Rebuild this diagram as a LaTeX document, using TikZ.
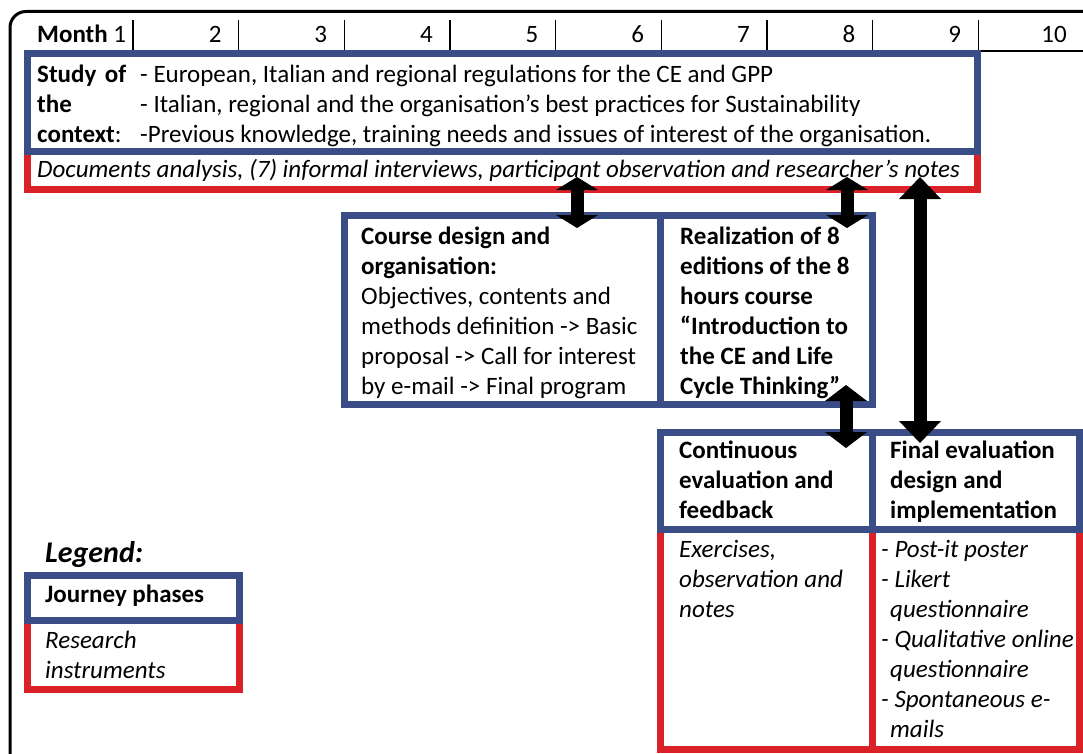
\documentclass[tikz,border=0pt]{standalone}
\usepackage{fontspec}
\setmainfont{Carlito}
\usetikzlibrary{arrows.meta}
\definecolor{phaseblue}{RGB}{59,77,135}
\definecolor{instrred}{RGB}{218,33,40}

\begin{document}
\begin{tikzpicture}[x=1pt,y=-1pt,
    phase/.style={draw=phaseblue, line width=7pt, inner sep=0pt, outer sep=0pt, anchor=north west},
    instr/.style={draw=instrred, line width=7pt, inner sep=0pt, outer sep=0pt, anchor=north west},
    size/.style 2 args={minimum width=#1, minimum height=#2},
    txt/.style={inner sep=0pt, anchor=north west, align=left, font=\fontsize{25pt}{30pt}\selectfont},
    dbl/.style={line width=13pt,
      {Triangle[width=42pt,length=#1,line width=0pt]}-{Triangle[width=42pt,length=#1,line width=0pt]}}]
  \useasboundingbox (0,0) rectangle (1083,754);
  \clip (0,0) rectangle (1083,754);
  % frame
  \draw[line width=3pt, rounded corners=16pt] (10,780) -- (10,11.5) -- (1110,11.5);
  % months
  \node[txt, anchor=base west] (month) at (37,43) {\textbf{Month} 1};
  \foreach \m in {2,...,10}
    \node[txt, anchor=base east] (m\m) at ({133+105.65*(\m-1)-17},43) {\m};
  \foreach \i in {1,...,9}
    \draw[line width=1.2pt] ({133+105.65*(\i-1)},20) -- ++(0,31);
  \draw[line width=1.2pt] (979,51) -- (1090,51);
  % research instruments
  \node[instr, size={949.5pt}{37.5pt}] (ctxinstr) at (27.5,151.5) {};
  \node[instr, size={211.5pt}{220pt}] (continstr) at (660.5,529) {};
  \node[instr, size={207.5pt}{220pt}] (finalinstr) at (872,529) {};
  \node[instr, size={212pt}{68.5pt}] (leginstr) at (27.5,620.5) {};
  % journey phases
  \node[phase, size={949.5pt}{98pt}] (context) at (27.5,53.5) {};
  \node[phase, size={316pt}{188.5pt}] (design) at (344.5,215.5) {};
  \node[phase, size={211.5pt}{188.5pt}] (courses) at (660.5,215.5) {};
  \node[phase, size={211.5pt}{97pt}] (contev) at (660.5,432) {};
  \node[phase, size={207.5pt}{97pt}] (finalev) at (872,432) {};
  \node[phase, size={212pt}{45pt}] (legphase) at (27.5,575.5) {};
  % texts
  \node[txt] (ctxtitle) at (37,65) {\makebox[89pt][s]{\textbf{Study of}}\\\textbf{the}\\\textbf{context}:};
  \node[txt] (ctxtext) at (140,65) {- European, Italian and regional regulations for the CE and GPP\\
    - Italian, regional and the organisation’s best practices for Sustainability\\
    -Previous knowledge, training needs and issues of interest of the organisation.};
  \node[txt, anchor=base west, font=\fontsize{25pt}{30pt}\selectfont\itshape] (ctxtools) at (37,178)
    {Documents analysis, (7) informal interviews, participant observation and researcher’s notes};
  \node[txt] (designtext) at (361,227) {\textbf{Course design and}\\\textbf{organisation:}\\
    Objectives, contents and\\methods definition -> Basic\\proposal -> Call for interest\\by e-mail -> Final program};
  \node[txt, font=\fontsize{25pt}{30pt}\selectfont\bfseries] (coursestext) at (680,227)
    {Realization of 8\\editions of the 8\\hours course\\“Introduction to\\the CE and Life\\Cycle Thinking”};
  \node[txt, font=\fontsize{25pt}{30pt}\selectfont\bfseries] (contevtext) at (679,441)
    {Continuous\\evaluation and\\feedback};
  \node[txt, font=\fontsize{25pt}{30pt}\selectfont\bfseries] (finalevtext) at (890,441)
    {Final evaluation\\design and\\implementation};
  \node[txt, font=\fontsize{25pt}{30pt}\selectfont\itshape] (conttools) at (679,540)
    {Exercises,\\observation and\\notes};
  \node[txt, font=\fontsize{25pt}{30pt}\selectfont\itshape] (finaltools) at (881,540)
    {- Post-it poster\\- Likert\\\hspace*{9pt}questionnaire\\- Qualitative online\\\hspace*{9pt}questionnaire\\
    - Spontaneous e-\\\hspace*{9pt}mails};
  % legend
  \node[txt, anchor=base west, font=\fontsize{30pt}{36pt}\selectfont\bfseries\itshape] (legend) at (45,562) {Legend:};
  \node[txt, anchor=base west, font=\fontsize{25pt}{30pt}\selectfont\bfseries] (legphasetext) at (45,602) {Journey phases};
  \node[txt, font=\fontsize{25pt}{30pt}\selectfont\itshape] (leginstrtext) at (45,631) {Research\\instruments};
  % arrows
  \coordinate (x1) at (577,0);
  \coordinate (x2) at (847,0);
  \coordinate (x3) at (920,0);
  \coordinate (x4) at (846,0);
  \draw[dbl=13pt, shorten <=-12pt, shorten >=-12.5pt] (ctxinstr.south -| x1) -- (design.north -| x1);
  \draw[dbl=13pt, shorten <=-12pt, shorten >=-12.5pt] (ctxinstr.south -| x2) -- (courses.north -| x2);
  \draw[dbl=22pt, shorten <=-12pt, shorten >=-11pt] (ctxinstr.south -| x3) -- (finalev.north -| x3);
  \draw[dbl=16pt, shorten <=-19pt, shorten >=-16pt] (courses.south -| x4) -- (contev.north -| x4);
\end{tikzpicture}
\end{document}
